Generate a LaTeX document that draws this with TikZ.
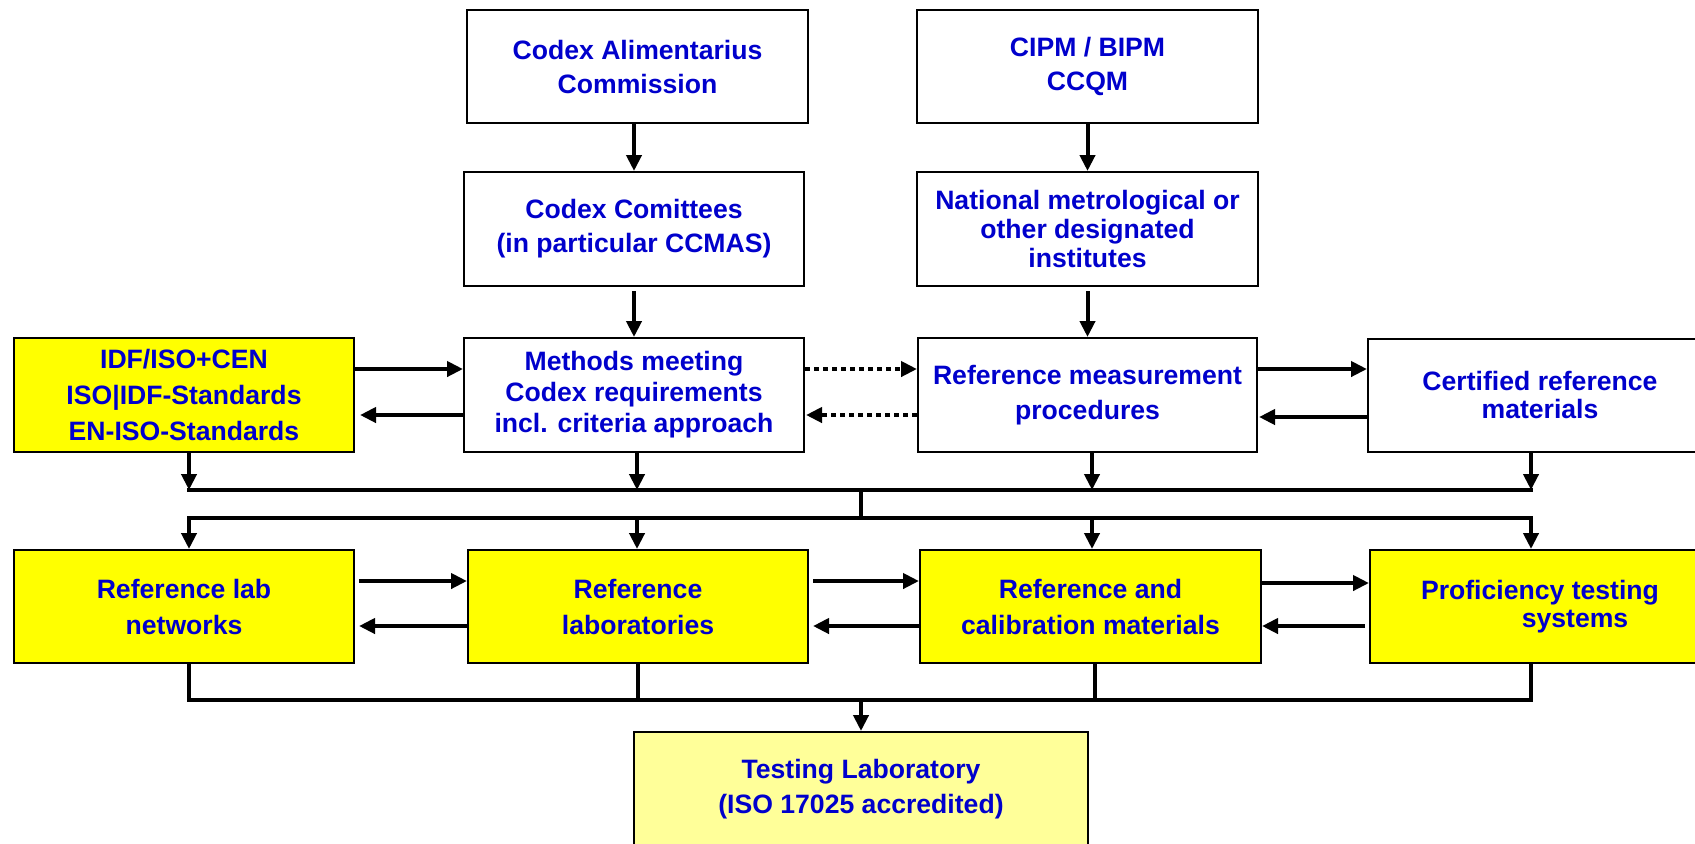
\documentclass[tikz,border=0pt]{standalone}
\usepackage{fontspec}
\setmainfont{Liberation Sans}
\usetikzlibrary{arrows.meta,calc}

\definecolor{txtblue}{RGB}{0,0,204}
\definecolor{boxyellow}{RGB}{255,255,0}
\definecolor{paleyellow}{RGB}{255,255,153}

\tikzset{
  box/.style={draw=black, line width=1pt, fill=white, inner sep=0pt,
    align=center, text=txtblue,
    font=\bfseries\fontsize{13.3}{17.5}\selectfont},
  ybox/.style={box, fill=boxyellow},
  sz/.style 2 args={minimum width=#1*0.5pt, minimum height=#2*0.5pt},
  lsp/.style={font=\bfseries\fontsize{13.3}{#1}\selectfont},
  arr/.style={line width=2pt, -{Triangle[length=8pt,width=7.5pt]}},
  dotarr/.style={arr, dash pattern=on 2.5pt off 2pt},
  bus/.style={line width=2pt, line cap=rect},
  stem/.style={line width=2pt},
}

\begin{document}
\begin{tikzpicture}[x=0.5pt, y=-0.5pt]
\useasboundingbox (0,0) rectangle (1695,843);
\fill[white] (0,0) rectangle (1695,843);

% top two rows
\node[box, sz={341}{113}, lsp=17pt] (codex) at (637.5,66.5) {Codex Alimentarius\\Commission};
\node[box, sz={341}{113}, lsp=17pt] (cipm) at (1087.5,66.5) {CIPM / BIPM\\CCQM};
\node[box, sz={340}{114}, lsp=17pt] (comm) at (634,229) {Codex Comittees\\(in particular CCMAS)};
\node[box, sz={341}{114}, lsp=14.3pt] (natl) at (1087.5,229) {National metrological or\\other designated\\institutes};

% methods row
\node[ybox, sz={340}{114}, lsp=18pt] (idf) at (184,395) {IDF/ISO+CEN\\ISO|IDF-Standards\\EN-ISO-Standards};
\node[box, sz={340}{114}, lsp=15.5pt] (meth) at (634,395) {Methods meeting\\Codex requirements\\incl. criteria approach};
\node[box, sz={339}{114}, lsp=17.5pt] (refm) at (1087.5,395) {Reference measurement\\procedures};
\node[box, sz={344}{113}, lsp=14pt] (cert) at (1540,395) {Certified reference\\materials};

% laboratory row
\node[ybox, sz={340}{113}, lsp=18pt] (rln) at (184,606.5) {Reference lab\\networks};
\node[ybox, sz={340}{113}, lsp=18pt] (rlab) at (638,606.5) {Reference\\laboratories};
\node[ybox, sz={341}{113}, lsp=18pt] (rcal) at (1090.5,606.5) {Reference and\\calibration materials};
\node[ybox, sz={340}{113}, lsp=14pt] (pts) at (1540,606.5) {Proficiency testing\\\hspace*{35pt}systems};

% testing laboratory
\node[box, fill=paleyellow, sz={454}{115}, lsp=17.5pt] (test) at (861,789.5) {Testing Laboratory\\(ISO 17025 accredited)};

% bus junctions
\coordinate (j1) at (189,490);  \coordinate (j2) at (637,490);
\coordinate (j3) at (1092,490); \coordinate (j4) at (1531,490);
\coordinate (m1) at (861,490);  \coordinate (m2) at (861,518);
\coordinate (k1) at (189,518);  \coordinate (k2) at (637,518);
\coordinate (k3) at (1092,518); \coordinate (k4) at (1531,518);
\coordinate (l1) at (189,700);  \coordinate (l2) at (638,700);
\coordinate (l3) at (1095,700); \coordinate (l4) at (1531,700);
\coordinate (m3) at (861,700);

% vertical flow at the top
\draw[arr] (codex.south -| comm.north) -- (comm.north);
\draw[arr] (cipm.south) -- (natl.north);
\draw[arr] ($(comm.south)+(0,4)$) -- (meth.north);
\draw[arr] ($(natl.south)+(0,4)$) -- (refm.north);

% horizontal exchanges, methods row
\draw[arr] ($(idf.east)+(0,-26)$) -- ($(meth.west)+(0,-26)$);
\draw[arr] ($(meth.west)+(0,20)$) -- ($(idf.east)+(5,20)$);
\draw[dotarr] ($(meth.east)+(0,-26)$) -- ($(refm.west)+(0,-26)$);
\draw[dotarr] ($(refm.west)+(0,20)$) -- ($(meth.east)+(1,20)$);
\draw[arr] ($(refm.east)+(0,-26)$) -- ($(cert.west)+(0,-26)$);
\draw[arr] ($(cert.west)+(0,22)$) -- ($(refm.east)+(1,22)$);

% horizontal exchanges, laboratory row
\draw[arr] ($(rln.east)+(4,-25.5)$) -- ($(rlab.west)+(0,-25.5)$);
\draw[arr] ($(rlab.west)+(0,19.5)$) -- ($(rln.east)+(4,19.5)$);
\draw[arr] ($(rlab.east)+(4,-25.5)$) -- ($(rcal.west)+(0,-25.5)$);
\draw[arr] ($(rcal.west)+(0,19.5)$) -- ($(rlab.east)+(4,19.5)$);
\draw[arr] ($(rcal.east)+(0,-23.5)$) -- ($(pts.west)+(0,-23.5)$);
\draw[arr] ($(pts.west)+(-4,19.5)$) -- ($(rcal.east)+(0,19.5)$);

% first collecting bus
\draw[arr] (idf.south -| j1) -- (j1);
\draw[arr] (meth.south -| j2) -- (j2);
\draw[arr] (refm.south -| j3) -- (j3);
\draw[arr] (cert.south -| j4) -- (j4);
\draw[bus] (j1) -- (j4);
\draw[stem] (m1) -- (m2);

% distributing bus
\draw[bus] (k1) -- (k4);
\draw[arr] (k1) -- (k1 |- rln.north);
\draw[arr] (k2) -- (k2 |- rlab.north);
\draw[arr] (k3) -- (k3 |- rcal.north);
\draw[arr] (k4) -- (k4 |- pts.north);

% bottom bus into the testing laboratory
\draw[stem] (rln.south -| l1) -- (l1);
\draw[stem] (rlab.south -| l2) -- (l2);
\draw[stem] (rcal.south -| l3) -- (l3);
\draw[stem] (pts.south -| l4) -- (l4);
\draw[bus] (l1) -- (l4);
\draw[arr] (m3) -- (test.north);
\end{tikzpicture}
\end{document}
